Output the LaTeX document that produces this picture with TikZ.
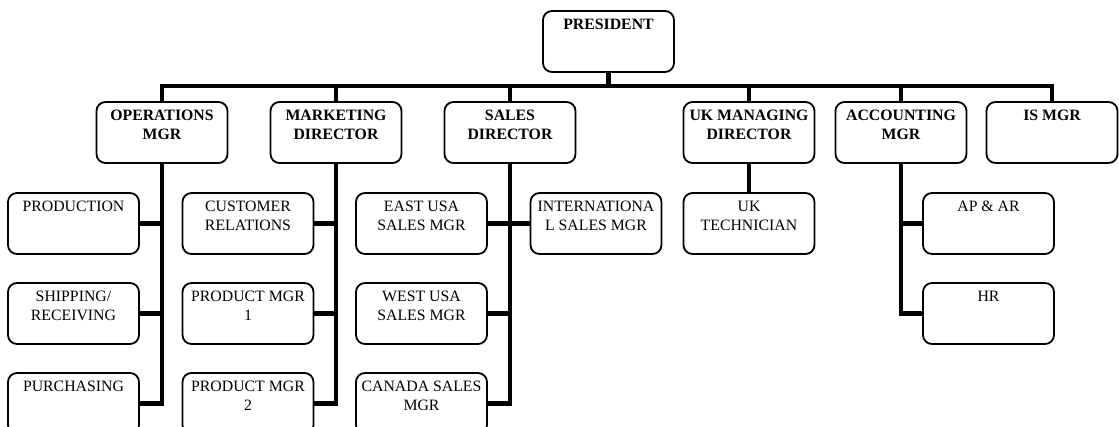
\documentclass[tikz,border=0pt]{standalone}
\usepackage{fontspec}
\setmainfont{Liberation Serif}
\usetikzlibrary{positioning}
\newcommand{\headfont}{\bfseries\fontsize{15.8}{18.5}\selectfont}
\newcommand{\postfont}{\fontsize{15.8}{18.5}\selectfont}
\tikzset{
    orgchart/.style={x=1pt, y=-1pt},
    unit/.style={draw, line width=1.8pt, rounded corners=9pt, minimum width=131pt, minimum height=61pt, inner sep=0pt, outer sep=0pt},
    % text sits at the top of each box
    caption/.style={anchor=north, yshift=-8pt, inner sep=0pt, align=center},
    head/.style={unit, label={[caption, font=\headfont]north:#1}},
    post/.style={unit, label={[caption, font=\postfont]north:#1}},
    link/.style={line width=4.5pt},
}
\begin{document}
\begin{tikzpicture}[orgchart]
    \useasboundingbox (0,0) rectangle (1119,427);

    % top
    \node[head=PRESIDENT] (pres) at (608.5,41.5) {};
    \coordinate[below=14pt of pres.south] (bus);

    % managers: position each relative to the previous one
    \node[head={OPERATIONS\\MGR}]                       (ops)   at (162,132.5) {};
    \node[head={MARKETING\\DIRECTOR}, right=43pt of ops]  (mkt)   {};
    \node[head={SALES\\DIRECTOR}, right=43pt of mkt]      (sales) {};
    \node[head={UK MANAGING\\DIRECTOR}, right=108pt of sales] (ukmd) {};
    \node[head={ACCOUNTING\\MGR}, right=21pt of ukmd]     (acct)  {};
    \node[head={IS MGR}, right=20pt of acct]              (ismgr) {};

    % staff
    \node[post=PRODUCTION, below left=30pt and 23pt of ops.south] (prod)  {};
    \node[post={SHIPPING/\\RECEIVING}, below=29pt of prod]         (ship)  {};
    \node[post=PURCHASING, below=29pt of ship]                     (purch) {};

    \node[post={CUSTOMER\\RELATIONS}, below left=30pt and 22.5pt of mkt.south] (cust) {};
    \node[post={PRODUCT MGR\\1}, below=29pt of cust]                          (pm1)  {};
    \node[post={PRODUCT MGR\\2}, below=29pt of pm1]                           (pm2)  {};

    \node[post={EAST USA\\SALES MGR}, below left=30pt and 23pt of sales.south]     (east)   {};
    \node[post={WEST USA\\SALES MGR}, below=29pt of east]                          (west)   {};
    \node[post={CANADA SALES\\MGR}, below=29pt of west]                            (canada) {};
    \node[post={INTERNATIONA\\L SALES MGR}, below right=30pt and 20.5pt of sales.south] (intl) {};

    \node[post={UK\\TECHNICIAN}, below=30pt of ukmd] (uktech) {};

    \node[post={AP \& AR}, below right=30pt and 22pt of acct.south] (apar) {};
    \node[post=HR, below=29pt of apar]                               (hr)   {};

    % top bus
    \draw[link] (pres.south) -- (bus);
    \draw[link] (ops.north) |- (bus) -| (ismgr.north);
    \foreach \m in {mkt, sales, ukmd, acct}
        \draw[link] (\m.north) -- (\m.north |- bus);

    % operations
    \draw[link] (ops.south) |- (purch.east);
    \foreach \s in {prod, ship}
        \draw[link] (\s.east) -- (\s.east -| ops.south);

    % marketing
    \draw[link] (mkt.south) |- (pm2.east);
    \foreach \s in {cust, pm1}
        \draw[link] (\s.east) -- (\s.east -| mkt.south);

    % sales
    \draw[link] (sales.south) |- (canada.east);
    \draw[link] (east.east) -- (intl.west);
    \draw[link] (west.east) -- (west.east -| sales.south);

    % uk
    \draw[link] (ukmd.south) -- (uktech.north);

    % accounting
    \draw[link] (acct.south) |- (hr.west);
    \draw[link] (apar.west) -- (apar.west -| acct.south);
\end{tikzpicture}
\end{document}
